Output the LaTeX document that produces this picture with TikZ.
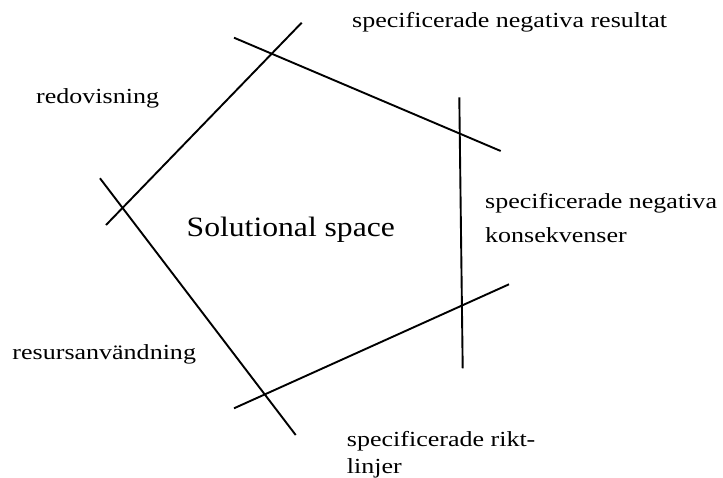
\documentclass[tikz,border=0pt]{standalone}
\usepackage{fontspec}
\setmainfont[FakeStretch=1.21]{Liberation Serif}
\newfontfamily\spacefont[FakeStretch=1.13]{Liberation Serif}
\usetikzlibrary{positioning}
\tikzset{
    side/.style={line width=1.9pt},
    lbl/.style={anchor=base west, inner sep=0pt,
        font={\fontsize{21.5pt}{26}\selectfont}},
    biglbl/.style={anchor=base west, inner sep=0pt,
        font={\spacefont\fontsize{28pt}{33}\selectfont}},
}

\begin{document}
\begin{tikzpicture}[x=1pt,y=-1pt]
\useasboundingbox (0,0) rectangle (723,477);

% the five limits
\draw[side] (301.7,22.7) -- (106,225);
\draw[side] (234,37.7) -- (500.7,151);
\draw[side] (459.3,97.3) -- (462.7,368.3);
\draw[side] (234,408.3) -- (509,284.3);
\draw[side] (100,178.3) -- (295.7,435);

\node[biglbl] (space) at (186.5,236) {Solutional space};

\node[lbl] (resultat) at (352,27.7) {specificerade negativa resultat};
\node[lbl] (redov) at (36,103.3) {redovisning};
\node[lbl] (konsek) at (485,208) {specificerade negativa};
\node[lbl] (konsek2) at ([yshift=-34.7pt]konsek.base west) {konsekvenser};
\node[lbl] (resurs) at (12.3,359) {resursanvändning};
\node[lbl] (rikt) at (346.7,446.5) {specificerade rikt-};
\node[lbl] (rikt2) at ([yshift=-27pt]rikt.base west) {linjer};
\end{tikzpicture}
\end{document}
